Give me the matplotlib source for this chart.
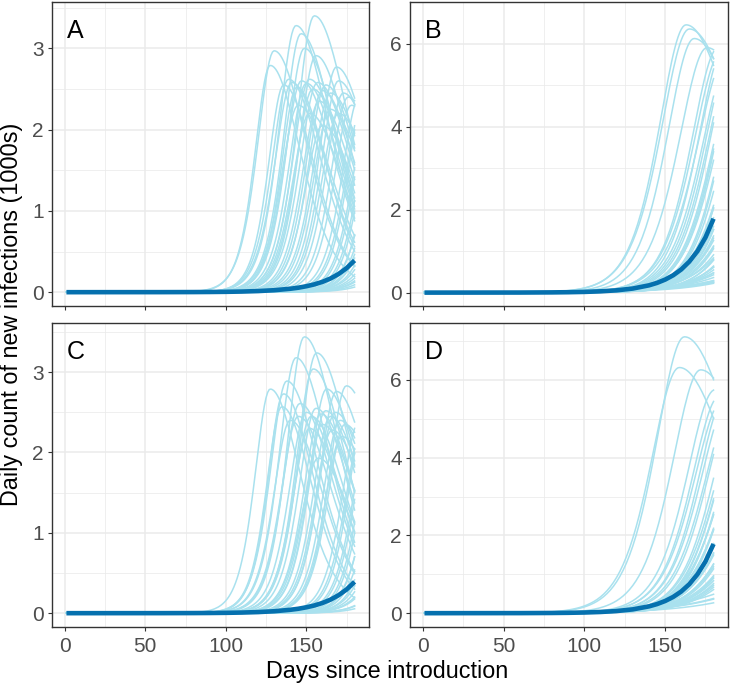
import numpy as np
import matplotlib.pyplot as plt

plt.rcParams['font.family'] = ['Liberation Sans', 'DejaVu Sans']

days = np.arange(1, 181)

# thick dark curve (1000s)
mean_days = [1, 60, 80, 90, 100, 110, 120, 130, 140, 145, 150, 155, 160, 165, 170, 175, 180]
mean_ac = [0, 0.0005, 0.0014, 0.0025, 0.0044, 0.0077, 0.0136, 0.024, 0.042, 0.055,
           0.073, 0.096, 0.127, 0.168, 0.223, 0.295, 0.39]
mean_bd = [0, 0.0017, 0.0055, 0.0097, 0.017, 0.031, 0.055, 0.098, 0.175, 0.234,
           0.313, 0.418, 0.558, 0.746, 0.997, 1.33, 1.78]

# light simulated curves: peak day, peak size (1000s), rise width (days)
a_peak = [127.6, 130, 143.6, 146.7, 148.8, 155, 156, 168.7,
          136, 139, 141, 144, 147, 150, 152, 154, 157, 160, 162, 165, 170, 173, 176, 178,
          145, 152, 158, 165, 170, 160,
          183, 185, 187, 189, 191, 193, 195, 197, 199, 201, 203, 205, 208, 211,
          214, 217, 220, 224, 228, 233]
a_height = [2.79, 2.97, 3.28, 3.18, 3.00, 3.40, 2.91, 2.77,
            2.55, 2.62, 2.58, 2.52, 2.60, 2.57, 2.62, 2.50, 2.58, 2.48, 2.55, 2.45, 2.60, 2.45, 2.40, 2.30,
            2.30, 2.20, 2.35, 2.25, 2.20, 2.05,
            2.4, 2.3, 2.5, 2.2, 2.4, 2.3, 2.5, 2.2, 2.4, 2.3, 2.5, 2.2, 2.4, 2.3,
            2.5, 2.2, 2.4, 2.3, 2.5, 2.2]
a_width = [13, 14, 14.5, 14.5, 14.5, 15, 14.5, 14.5,
           13, 14, 14.5, 13, 14.5, 14.5, 14.5, 14.5, 15, 14.5, 14.5, 15, 14.5, 14.5, 14.5, 14.5,
           14.5, 14.5, 14.5, 14.5, 14.5, 14.5,
           14.5, 14.5, 14.5, 14.5, 14.5, 14.5, 14.5, 14.5, 15.5, 15.5, 15.5, 17, 17, 18,
           18, 19, 19, 20.5, 20.5, 21.5]

c_peak = [148.8, 156.4, 143.6, 154.3, 127.6, 137.9, 135.8, 174.9, 162.6, 168.7, 146, 134.8, 157.4,
          150, 153, 156, 159, 162, 165, 168, 171, 174, 152, 160, 166, 172, 140, 145,
          183, 185, 187, 189, 191, 193, 195, 197, 199, 201, 204, 207, 210, 214,
          218, 223, 228, 235]
c_height = [3.44, 3.24, 3.18, 3.04, 2.79, 2.89, 2.73, 2.83, 2.79, 2.76, 2.61, 2.57, 1.93,
            2.50, 2.45, 2.55, 2.48, 2.52, 2.45, 2.50, 2.40, 2.35, 2.30, 2.35, 2.28, 2.20, 2.40, 2.45,
            2.4, 2.3, 2.5, 2.2, 2.4, 2.3, 2.5, 2.2, 2.4, 2.3, 2.5, 2.2, 2.4, 2.3,
            2.5, 2.2, 2.4, 2.3]
c_width = [14.5, 15, 14.5, 14.5, 13, 14, 13, 14.5, 14.5, 14.5, 14.5, 13, 14.5,
           14.5, 14.5, 14.5, 14.5, 14.5, 14.5, 14.5, 14.5, 14.5, 14.5, 14.5, 14.5, 14.5, 14, 14.5,
           14.5, 14.5, 14.5, 14.5, 14.5, 14.5, 14.5, 14.5, 15.5, 15.5, 15.5, 17, 17, 18,
           19, 19, 20.5, 21.5]

b_peak = [163, 165, 168, 176, 185, 188, 190, 192, 195, 197, 199, 201, 203, 205, 207, 209,
          211, 213, 215, 217, 219, 221, 224, 227, 230, 234, 238, 243, 248, 255, 262, 270,
          280, 290, 300, 285, 275, 206, 210, 214, 218, 222, 226, 232, 240,
          183, 187, 193, 196, 200]
b_height = [6.45, 6.35, 6.12, 5.9, 5.8, 5.7, 5.6, 5.8, 5.9, 5.5, 6.0, 5.5, 6.0, 5.8, 5.5, 5.8,
            5.5, 5.6, 5.4, 5.5, 5.5, 5.2, 5.5, 5.0, 5.3, 5.0, 5.0, 4.8, 4.5, 4.5, 4.0, 3.5,
            3.0, 3.0, 2.5, 2.2, 2.0, 5.0, 4.8, 5.0, 4.6, 4.8, 4.5, 4.5, 4.2,
            5.9, 5.9, 5.6, 5.4, 5.7]
b_width = [23, 24, 23, 24, 24, 25, 24, 24, 24, 24, 24, 24, 24, 25, 25, 26,
           26, 26, 28, 28, 29, 29, 30, 30, 31, 32, 34, 36, 38, 42, 46, 50,
           54, 60, 66, 60, 54, 26, 28, 29, 30, 31, 32, 35, 37,
           23, 23, 24, 24, 25]

d_peak = [162, 158.8, 172, 181, 184, 186, 190, 194, 198, 200, 202, 204, 206, 208, 210, 212,
          214, 216, 218, 220, 223, 226, 229, 232, 236, 240,
          205, 209, 213, 217, 221, 225, 230, 234, 201, 197,
          260, 265, 270, 280, 188, 192]
d_height = [7.11, 6.32, 6.26, 5.75, 5.6, 5.5, 5.5, 5.5, 5.6, 5.4, 5.6, 5.5, 5.4, 5.2, 5.4, 5.0,
            5.2, 5.0, 5.1, 4.8, 5.0, 4.6, 4.8, 4.5, 4.4, 4.2,
            4.8, 4.5, 4.6, 4.4, 4.6, 4.2, 4.0, 4.0, 4.8, 4.6,
            2.0, 1.8, 2.0, 2.0, 5.6, 5.3]
d_width = [24, 24, 24, 24, 24, 25, 25, 25, 25, 26, 26, 26, 28, 28, 29, 29,
           30, 30, 31, 31, 32, 32, 34, 35, 36, 37,
           26, 28, 29, 30, 31, 32, 34, 35, 25, 24,
           60, 60, 60, 60, 24, 25]


def sim_curve(peak, height, width, tail):
    w = np.where(days < peak, width, width * tail)
    return height / np.cosh((days - peak) / w) ** 2


panels = [
    ('A', a_peak, a_height, a_width, 2.0, mean_ac, [0, 1, 2, 3], [0.5, 1.5, 2.5, 3.5]),
    ('B', b_peak, b_height, b_width, 1.8, mean_bd, [0, 2, 4, 6], [1, 3, 5, 7]),
    ('C', c_peak, c_height, c_width, 2.0, mean_ac, [0, 1, 2, 3], [0.5, 1.5, 2.5, 3.5]),
    ('D', d_peak, d_height, d_width, 1.8, mean_bd, [0, 2, 4, 6], [1, 3, 5, 7]),
]

W, H = 730, 686
fig = plt.figure(figsize=(W / 100, H / 100), dpi=100)
boxes = [(52, 2, 369, 306), (410, 2, 728, 306), (52, 323, 369, 627), (410, 323, 728, 627)]

light = '#A9E1EE'
dark = '#0570AE'
edge = '#333333'

for i, (lab, pk, ht, wd, tail, mean, yt, ym) in enumerate(panels):
    l, t, r, b = boxes[i]
    ax = fig.add_axes([l / W, 1 - b / H, (r - l) / W, (b - t) / H])
    top = 0
    for p, h, w in zip(pk, ht, wd):
        y = sim_curve(p, h, w, tail)
        top = max(top, y.max())
        ax.plot(days, y, color=light, lw=1.1, zorder=2)
    ax.plot(mean_days, mean, color=dark, lw=3.3, solid_capstyle='butt', zorder=3)

    pad = 0.05 * top
    ax.set_ylim(-pad, top + pad)
    ax.set_xlim(1 - 0.05 * 179, 180 + 0.05 * 179)
    ax.set_xticks([0, 50, 100, 150])
    ax.set_xticks([25, 75, 125, 175], minor=True)
    ax.set_yticks(yt)
    ax.set_yticks(ym, minor=True)
    ax.grid(which='major', color='#EBEBEB', lw=1.1, zorder=0)
    ax.grid(which='minor', color='#EBEBEB', lw=0.55, zorder=0)
    ax.set_axisbelow(True)
    for s in ax.spines.values():
        s.set_color(edge)
        s.set_linewidth(1.0)
    ax.tick_params(which='major', length=3, width=0.8, color=edge, labelcolor='#4D4D4D',
                   labelsize=15)
    ax.tick_params(axis='x', pad=4)
    ax.tick_params(axis='y', pad=3)
    ax.tick_params(which='minor', length=0)
    if i < 2:
        ax.tick_params(axis='x', labelbottom=False)
    ax.text(0.047, 0.88, lab, transform=ax.transAxes, fontsize=18, color='black',
            va='baseline', ha='left')

fig.text(387 / W, (H - 678) / H, 'Days since introduction', fontsize=16.8, ha='center',
         va='baseline')
fig.text(12 / W, 1 - 314 / H, 'Daily count of new infections (1000s)', fontsize=16.8,
         rotation=90, ha='center', va='center')

fig.savefig('out.png', dpi=100)
